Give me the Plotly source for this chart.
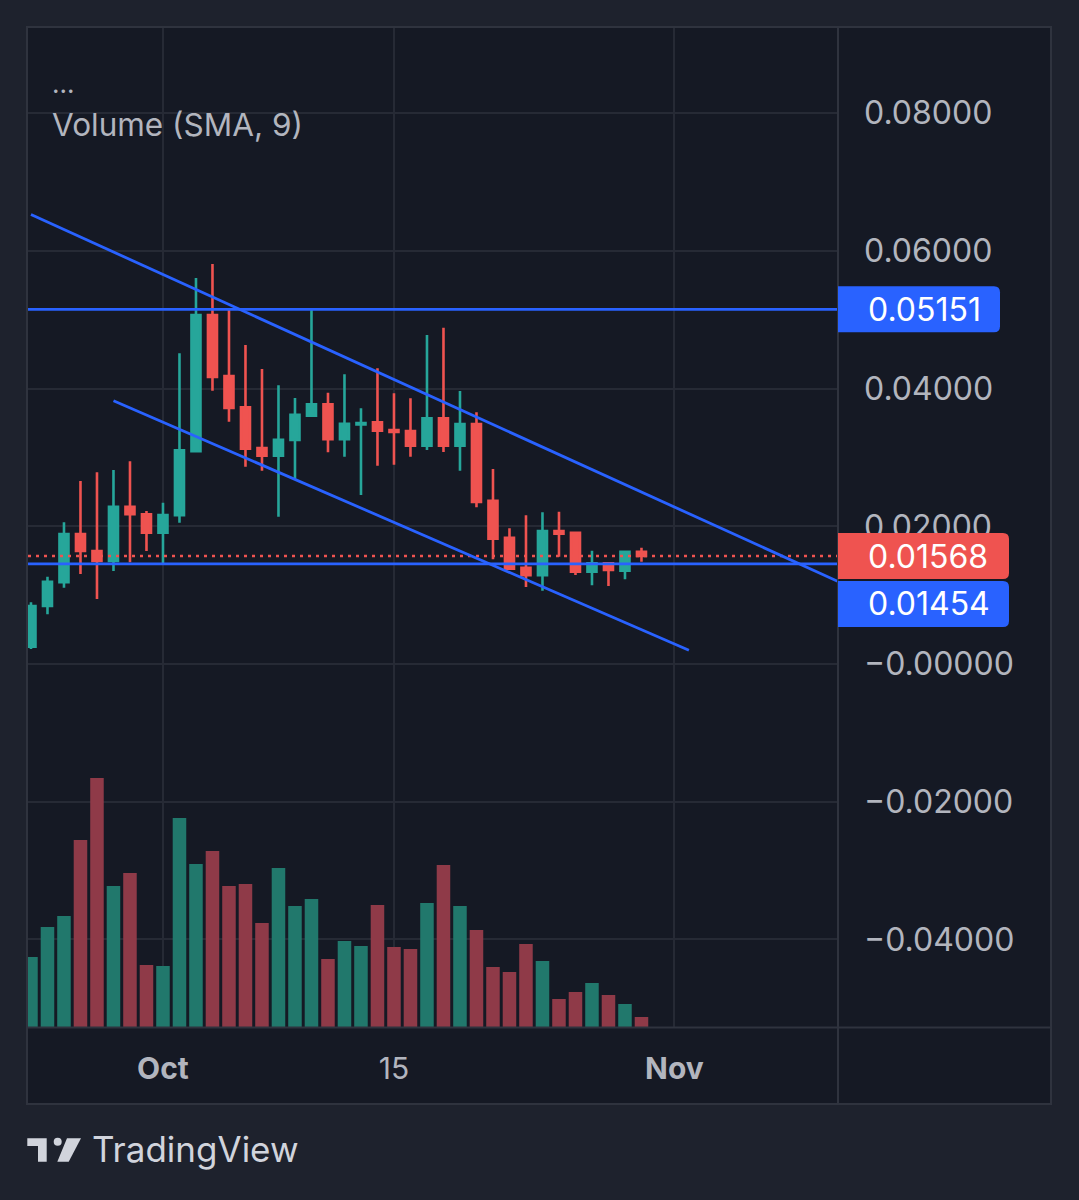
import plotly.graph_objects as go
import pandas as pd

# ---------------- data ----------------
dates = pd.date_range("2023-09-23", "2023-10-30", freq="D")
opens = [0.00251, 0.00842, 0.01187, 0.01888, 0.01641, 0.01496, 0.02285, 0.02174, 0.01907, 0.02160,
         0.03089, 0.05069, 0.04183, 0.03728, 0.03137, 0.03025, 0.03253, 0.03606, 0.03772, 0.03264,
         0.03479, 0.03510, 0.03399, 0.03384, 0.03171, 0.03569, 0.03171, 0.03486, 0.02372, 0.01834,
         0.01399, 0.01288, 0.01932, 0.01907, 0.01341, 0.01463, 0.01355, 0.01630]
highs = [0.00896, 0.01268, 0.02058, 0.02658, 0.02784, 0.02818, 0.02944, 0.02222, 0.02343, 0.04513,
         0.05606, 0.05810, 0.05166, 0.04633, 0.04285, 0.04048, 0.03863, 0.05152, 0.03940, 0.04208,
         0.03714, 0.04295, 0.03932, 0.03859, 0.04778, 0.04885, 0.03965, 0.03656, 0.02832, 0.01971,
         0.02160, 0.02203, 0.02212, 0.01907, 0.01646, 0.01463, 0.01631, 0.01689]
lows = [0.00218, 0.00722, 0.01108, 0.01307, 0.00944, 0.01351, 0.01477, 0.01641, 0.01452, 0.02052,
        0.03089, 0.03970, 0.03519, 0.02866, 0.02808, 0.02139, 0.02691, 0.03602, 0.03075, 0.03011,
        0.02455, 0.02880, 0.02895, 0.03011, 0.03108, 0.03079, 0.02808, 0.02276, 0.01521, 0.01384,
        0.01118, 0.01065, 0.01558, 0.01293, 0.01143, 0.01133, 0.01230, 0.01486]
closes = [0.00842, 0.01195, 0.01888, 0.01641, 0.01496, 0.02285, 0.02174, 0.01907, 0.02164, 0.03104,
          0.05069, 0.04168, 0.03718, 0.03127, 0.03025, 0.03258, 0.03621, 0.03772, 0.03264, 0.03490,
          0.03500, 0.03389, 0.03370, 0.03171, 0.03569, 0.03171, 0.03486, 0.02353, 0.01820, 0.01384,
          0.01288, 0.01932, 0.01893, 0.01341, 0.01463, 0.01365, 0.01631, 0.01568]
volumes = [70, 100, 111, 187, 249, 141, 154, 62, 61, 209, 163, 176, 141, 143, 104, 159, 121, 128, 68, 86,
           81, 122, 80, 78, 124, 162, 121, 97, 60, 55, 83, 66, 28, 35, 44, 32, 23, 10]
volumes = [v * 1000 for v in volumes]

price_ticks = [-0.04, -0.02, 0.0, 0.02, 0.04, 0.06, 0.08]
price_tick_text = ["\u22120.04000", "\u22120.02000", "\u22120.00000", "0.02000", "0.04000", "0.06000", "0.08000"]
time_ticks = ["2023-10-01", "2023-10-15", "2023-11-01"]
time_tick_text = ["<b>Oct</b>", "15", "<b>Nov</b>"]

h_levels = [0.05151, 0.01454]
last_price = 0.01568
upper_channel = (["2023-09-23 00:00", "2023-11-12 00:00"], [0.06529, 0.01081])
lower_channel = (["2023-09-28 00:00", "2023-11-01 21:00"], [0.03824, 0.00200])

# ---------------- style ----------------
UP = "#26a69a"
DOWN = "#ef5350"
VUP = "#21786c"
VDOWN = "#8f3a48"
BLUE = "#2962ff"
OUTER = "#1e222d"
INNER = "#151924"
GRID = "#262a35"
BORDER = "#2f333e"
TXT = "#b2b5be"
FONT = "Inter"

W, H = 1079, 1200
L, R, T, B = 28, 837, 28, 1027


def xp(px):
    return (px - L) / (R - L)


def yp(py):
    return (B - py) / (B - T)


fig = go.Figure()

vol_colors = [VUP if c >= o else VDOWN for o, c in zip(opens, closes)]
fig.add_trace(go.Bar(x=dates, y=volumes, marker_color=vol_colors, marker_line_width=0,
                     yaxis="y2", hoverinfo="skip"))

fig.add_trace(go.Candlestick(
    x=dates, open=opens, high=highs, low=lows, close=closes,
    increasing=dict(line=dict(color=UP, width=2.6), fillcolor=UP),
    decreasing=dict(line=dict(color=DOWN, width=2.6), fillcolor=DOWN),
    whiskerwidth=0,
))

shapes = []
# frame
shapes.append(dict(type="rect", xref="paper", yref="paper", x0=xp(27), x1=xp(1051), y0=yp(1104), y1=yp(27),
                   line=dict(color=BORDER, width=2), fillcolor=INNER, layer="below"))
# separators
shapes.append(dict(type="line", xref="paper", yref="paper", x0=xp(838), x1=xp(838), y0=yp(1104), y1=yp(27),
                   line=dict(color=BORDER, width=2), layer="above"))
shapes.append(dict(type="line", xref="paper", yref="paper", x0=xp(27), x1=xp(1051), y0=yp(1027.5), y1=yp(1027.5),
                   line=dict(color=BORDER, width=2), layer="above"))

# horizontal levels
for lv in h_levels:
    shapes.append(dict(type="line", xref="paper", yref="y", x0=0, x1=1, y0=lv, y1=lv,
                       line=dict(color=BLUE, width=2.8)))
shapes.append(dict(type="line", xref="paper", yref="y", x0=0, x1=1, y0=last_price, y1=last_price,
                   line=dict(color=DOWN, width=2.5, dash="3px,5px")))
# channel lines
for (xs, ys) in (upper_channel, lower_channel):
    shapes.append(dict(type="line", xref="x", yref="y", x0=xs[0], x1=xs[1], y0=ys[0], y1=ys[1],
                       line=dict(color=BLUE, width=2.8)))


def label_box(price, color, width, shift):
    r = 6
    y0, y1 = shift - 23, shift + 23
    path = (f"M0,{y0} L{width - r},{y0} Q{width},{y0} {width},{y0 + r} "
            f"L{width},{y1 - r} Q{width},{y1} {width - r},{y1} L0,{y1} Z")
    shapes.append(dict(type="path", xref="paper", yref="y", xsizemode="pixel", ysizemode="pixel",
                       xanchor=xp(838), yanchor=price, path=path, fillcolor=color, line=dict(width=0),
                       layer="above"))


label_box(h_levels[0], BLUE, 162, 0)
label_box(last_price, DOWN, 171, 0)
label_box(h_levels[1], BLUE, 171, -40)

# logo
def poly(pts):
    return "M" + " L".join(f"{xp(a)},{yp(b)}" for a, b in pts) + " Z"

LOGO = "#d1d4dc"
shapes.append(dict(type="path", xref="paper", yref="paper",
                   path=poly([(27.3, 1138.3), (46.7, 1138.3), (46.7, 1161.7), (38, 1161.7), (38, 1146), (27.3, 1146)]),
                   fillcolor=LOGO, line=dict(width=0)))
shapes.append(dict(type="circle", xref="paper", yref="paper", x0=xp(53.7), x1=xp(61.7), y0=yp(1145.7), y1=yp(1137.7),
                   fillcolor=LOGO, line=dict(width=0)))
shapes.append(dict(type="path", xref="paper", yref="paper",
                   path=poly([(67, 1138.3), (81, 1138.3), (68.7, 1161.7), (57.3, 1161.7)]),
                   fillcolor=LOGO, line=dict(width=0)))

annotations = []
for price, shift in ((h_levels[0], 0), (last_price, 0), (h_levels[1], -40)):
    annotations.append(dict(xref="paper", yref="y", x=xp(838), y=price, xshift=28, yshift=shift,
                            xanchor="left", yanchor="middle", showarrow=False,
                            text=f"{price:.5f}", font=dict(family=FONT, size=32, color="#ffffff")))
annotations.append(dict(xref="paper", yref="paper", x=xp(50), y=yp(84), xanchor="left", yanchor="middle",
                        showarrow=False, text="...", font=dict(family=FONT, size=26, color=TXT)))
annotations.append(dict(xref="paper", yref="paper", x=xp(50), y=yp(124), xanchor="left", yanchor="middle",
                        showarrow=False, text="Volume (SMA, 9)", font=dict(family=FONT, size=31.5, color=TXT)))
annotations.append(dict(xref="paper", yref="paper", x=xp(90), y=yp(1149), xanchor="left", yanchor="middle",
                        showarrow=False, text="TradingView", font=dict(family=FONT, size=35, color=LOGO)))

fig.update_layout(
    width=W, height=H,
    margin=dict(l=L, r=W - R, t=T, b=H - B),
    paper_bgcolor=OUTER, plot_bgcolor=INNER,
    showlegend=False,
    bargap=0.18,
    boxgap=0.22,
    shapes=shapes, annotations=annotations,
    xaxis=dict(type="date", range=["2023-09-22 19:40", "2023-11-10 20:24"],
               tickvals=time_ticks, ticktext=time_tick_text,
               showgrid=True, gridcolor=GRID, gridwidth=1.5, zeroline=False, showline=False,
               rangeslider=dict(visible=False), ticks="", ticklabelstandoff=21,
               tickfont=dict(family=FONT, size=30, color=TXT), fixedrange=True),
    yaxis=dict(range=[-0.052723, 0.092375], side="right", tickvals=price_ticks, ticktext=price_tick_text,
               showgrid=True, gridcolor=GRID, gridwidth=1.5, zeroline=False, showline=False,
               ticks="", ticklabelstandoff=26, tickfont=dict(family=FONT, size=32, color=TXT)),
    yaxis2=dict(overlaying="y", range=[0, 999000], visible=False, showgrid=False),
)

fig.write_html("out.html")
